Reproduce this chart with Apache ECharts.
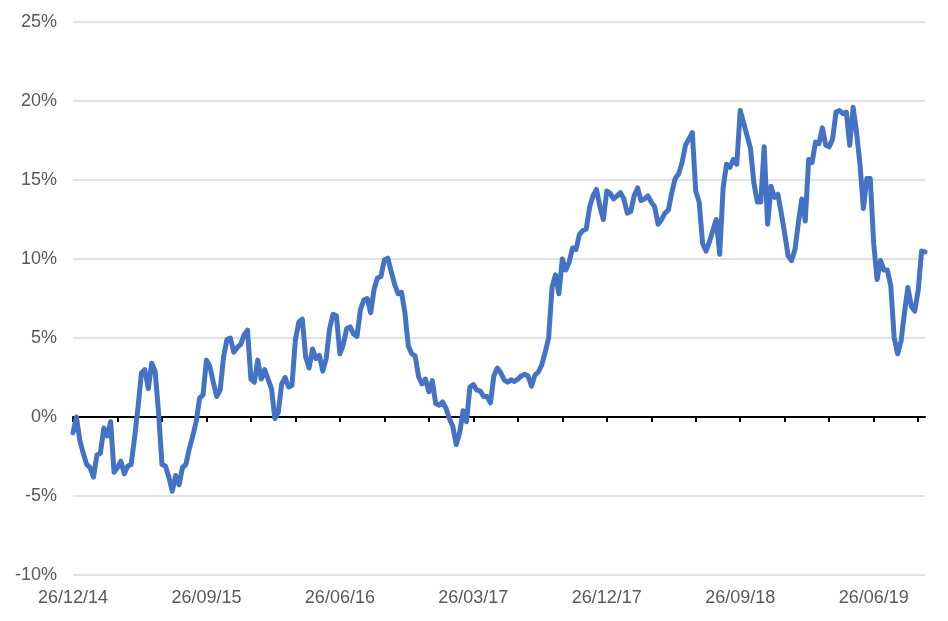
<!DOCTYPE html>
<html>
<head>
<meta charset="utf-8">
<script src="https://cdn.jsdelivr.net/npm/echarts@6/dist/echarts.min.js"></script>
<style>
html,body{margin:0;padding:0;background:#fff;}
#chart{width:948px;height:621px;}
</style>
</head>
<body>
<div id="chart"></div>
<script>
// Weekly return values (%), starting 26/12/14
const values = [
  -1.0, 0.0, -1.5, -2.3, -3.0, -3.2, -3.8, -2.4, -2.3, -0.7,
  -1.2, -0.3, -3.5, -3.2, -2.8, -3.6, -3.1, -3.0, -1.3, 0.6,
  2.8, 3.0, 1.8, 3.4, 2.9, 0.3, -3.0, -3.1, -3.8, -4.7,
  -3.7, -4.3, -3.2, -3.0, -2.0, -1.2, -0.3, 1.2, 1.4, 3.6,
  3.2, 2.2, 1.3, 1.7, 3.8, 4.9, 5.0, 4.1, 4.4, 4.6,
  5.2, 5.5, 2.4, 2.2, 3.6, 2.4, 3.0, 2.4, 1.8, -0.1,
  0.3, 2.1, 2.5, 1.9, 2.0, 4.9, 6.0, 6.2, 3.8, 3.1,
  4.3, 3.7, 3.9, 2.9, 3.7, 5.6, 6.5, 6.4, 4.0, 4.6,
  5.6, 5.7, 5.25, 5.1, 6.8, 7.4, 7.5, 6.6, 8.1, 8.8,
  8.9, 9.95, 10.05, 9.2, 8.4, 7.8, 7.9, 6.6, 4.5, 4.0,
  3.85, 2.55, 2.1, 2.4, 1.6, 2.3, 0.85, 0.75, 0.95, 0.55,
  -0.1, -0.6, -1.75, -1.0, 0.4, -0.3, 1.9, 2.05, 1.7, 1.65,
  1.3, 1.3, 0.9, 2.6, 3.1, 2.8, 2.35, 2.2, 2.35, 2.25,
  2.4, 2.6, 2.7, 2.6, 1.95, 2.65, 2.85, 3.3, 4.1, 5.0,
  8.2, 9.0, 7.8, 10.0, 9.3, 9.8, 10.7, 10.6, 11.55, 11.8,
  11.9, 13.3, 14.0, 14.4, 13.3, 12.5, 14.3, 14.15, 13.8, 14.0,
  14.2, 13.8, 12.9, 13.0, 14.0, 14.5, 13.7, 13.8, 14.0, 13.6,
  13.3, 12.2, 12.5, 12.9, 13.1, 14.2, 15.1, 15.4, 16.1, 17.2,
  17.6, 18.0, 14.3, 13.6, 11.0, 10.5, 11.1, 11.8, 12.5, 10.3,
  14.5, 16.0, 15.8, 16.3, 16.0, 19.4, 18.6, 17.8, 17.0, 14.8,
  13.6, 13.6, 17.1, 12.2, 14.6, 13.9, 14.1, 12.9, 11.6, 10.2,
  9.9, 10.6, 12.3, 13.8, 12.4, 16.3, 16.1, 17.4, 17.3, 18.3,
  17.2, 17.1, 17.6, 19.3, 19.4, 19.2, 19.3, 17.2, 19.6, 18.0,
  16.0, 13.2, 15.1, 15.1, 11.0, 8.7, 9.9, 9.3, 9.3, 8.3,
  5.0, 4.0, 4.8, 6.6, 8.2, 7.0, 6.7, 8.0, 10.5, 10.45
];
const tickLabels = ['26/12/14', '26/09/15', '26/06/16', '26/03/17', '26/12/17', '26/09/18', '26/06/19'];
const yTicks = [-10, -5, 0, 5, 10, 15, 20, 25];

// weekly category dates
const categories = [];
const start = new Date(2014, 11, 26);
for (let i = 0; i < values.length; i++) {
  const d = new Date(start.getTime() + i * 7 * 86400000);
  categories.push(d.getDate() + '/' + (d.getMonth() + 1) + '/' + d.getFullYear());
}

const chart = echarts.init(document.getElementById('chart'), null, {renderer: 'canvas'});
chart.setOption({
  animation: false,
  grid: {left: 73, right: 23, top: 22, bottom: 46, containLabel: false},
  xAxis: [
    {
      type: 'category',
      data: categories,
      boundaryGap: false,
      position: 'bottom',
      axisLine: {show: false, onZero: false},
      axisTick: {show: false},
      splitLine: {show: false},
      axisLabel: {
        interval: 38,
        margin: 14,
        color: '#595959',
        fontSize: 18,
        fontFamily: 'Liberation Sans, Arial, sans-serif',
        formatter: function (v, i) { return tickLabels[Math.round(i / 39)] || ''; }
      }
    },
    {
      type: 'category',
      data: categories,
      boundaryGap: false,
      position: 'bottom',
      axisLine: {show: true, onZero: true, lineStyle: {color: '#000', width: 2}},
      axisTick: {show: true, interval: 12, length: 5, lineStyle: {color: '#000', width: 2}},
      axisLabel: {show: false},
      splitLine: {show: false}
    }
  ],
  yAxis: {
    type: 'value',
    min: yTicks[0],
    max: yTicks[yTicks.length - 1],
    interval: 5,
    axisLine: {show: false},
    axisTick: {show: false},
    splitLine: {show: true, lineStyle: {color: '#d9d9d9', width: 1.5}},
    axisLabel: {
      margin: 16,
      color: '#595959',
      fontSize: 18,
      fontFamily: 'Liberation Sans, Arial, sans-serif',
      formatter: '{value}%'
    }
  },
  series: [{
    type: 'line',
    xAxisIndex: 0,
    data: values,
    symbol: 'none',
    smooth: false,
    lineStyle: {color: '#4472C4', width: 5, join: 'round', cap: 'round'},
    z: 3
  }]
});
</script>
</body>
</html>
